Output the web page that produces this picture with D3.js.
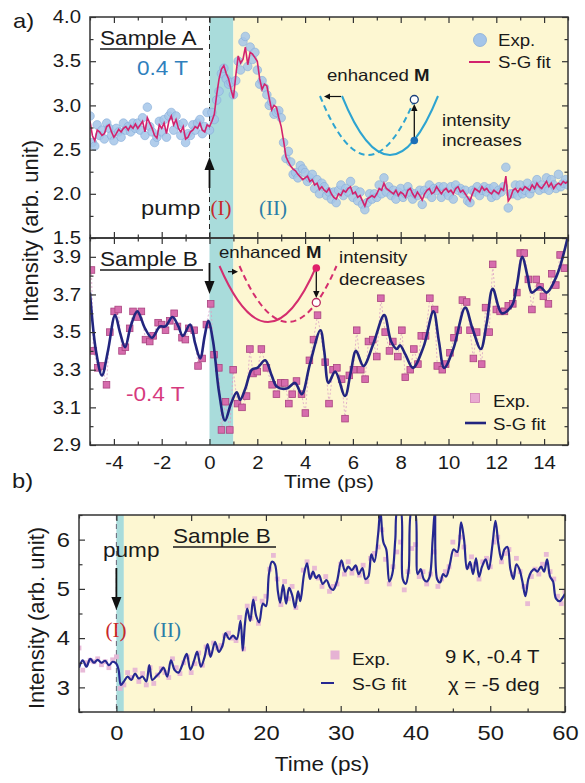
<!DOCTYPE html>
<html>
<head>
<meta charset="utf-8">
<style>
    body { margin: 0; background: #fff; }
    svg { display: block; }
</style>
</head>
<body>
<div class="container"></div>
<script src="https://cdnjs.cloudflare.com/ajax/libs/d3/7.8.5/d3.min.js"></script>
<script>
// ---- panel a, sample A (0.4 T): time grid 0.1 ps
var timeA = d3.range(0, 201).map(function (i) { return -5 + i * 0.1; });
var expA = [
    2.88, 2.58, 2.54, 2.78, 2.66, 2.72, 2.62, 2.80, 2.74, 2.66,
    2.60, 2.74, 2.70, 2.64, 2.80, 2.72, 2.76, 2.70, 2.80, 2.74,
    2.80, 2.72, 2.86, 2.66, 2.98, 2.76, 2.70, 2.58, 2.64, 2.82,
    2.70, 2.84, 2.64, 2.88, 2.92, 2.72, 2.88, 2.78, 2.66, 2.80,
    2.58, 2.68, 2.66, 2.78, 2.72, 2.80, 2.84, 2.68, 2.76, 2.92,
    2.72, 2.92, 2.84, 3.06, 3.16, 3.36, 3.42, 3.30, 3.24, 3.26,
    3.12, 3.28, 3.50, 3.40, 3.72, 3.78, 3.44, 3.66, 3.52, 3.60,
    3.40, 3.24, 3.28, 3.20, 3.12, 3.00, 3.04, 2.90, 2.92, 2.94,
    2.86, 2.58, 2.40, 2.48, 2.36, 2.22, 2.24, 2.18, 2.32, 2.28,
    2.24, 2.14, 2.18, 2.22, 2.06, 2.16, 2.00, 2.12, 2.08, 1.98,
    2.02, 1.94, 2.02, 1.90, 2.04, 2.10, 1.98, 2.06, 2.02, 2.14,
    1.96, 2.04, 1.92, 2.02, 1.88, 1.82, 1.90, 2.00, 1.94, 2.00,
    1.96, 2.10, 2.00, 2.18, 2.02, 2.08, 1.98, 2.04, 1.94, 2.02,
    2.06, 1.96, 2.00, 2.08, 2.02, 1.94, 2.00, 1.98, 2.04, 1.88,
    2.04, 2.00, 2.10, 1.96, 2.06, 2.04, 2.08, 1.96, 2.08, 2.02,
    1.98, 2.08, 1.94, 2.10, 2.04, 2.06, 2.00, 2.04, 1.92, 1.90,
    2.04, 2.02, 2.08, 1.98, 2.04, 2.08, 2.02, 2.06, 1.96, 2.08,
    1.98, 2.04, 2.02, 2.08, 2.30, 1.84, 2.00, 2.00, 2.10, 1.98,
    2.10, 2.00, 2.04, 2.12, 2.00, 2.06, 2.10, 2.16, 2.04, 2.10,
    2.06, 2.18, 2.04, 2.16, 2.10, 2.06, 2.22, 2.08, 2.12, 2.16, 2.10
];
var fitA = [
    2.82, 2.66, 2.60, 2.72, 2.70, 2.66, 2.68, 2.76, 2.78, 2.70,
    2.64, 2.68, 2.73, 2.70, 2.74, 2.76, 2.72, 2.77, 2.74, 2.79,
    2.74, 2.78, 2.82, 2.70, 2.86, 2.80, 2.74, 2.66, 2.63, 2.78,
    2.74, 2.80, 2.68, 2.82, 2.88, 2.78, 2.84, 2.74, 2.70, 2.76,
    2.62, 2.64, 2.70, 2.72, 2.76, 2.74, 2.80, 2.72, 2.70, 2.78,
    2.76, 2.82, 2.90, 3.12, 3.30, 3.41, 3.45, 3.36, 3.30, 3.18,
    3.08, 3.34, 3.56, 3.48, 3.52, 3.66, 3.46, 3.60, 3.58, 3.54,
    3.50, 3.30, 3.18, 3.24, 3.22, 3.08, 2.95, 3.00, 2.98, 2.86,
    2.76, 2.60, 2.42, 2.36, 2.31, 2.28, 2.26, 2.22, 2.19, 2.16,
    2.18, 2.20, 2.14, 2.16, 2.10, 2.12, 2.05, 2.08, 2.04, 2.02,
    2.06, 2.00, 1.96, 1.94, 2.00, 1.98, 2.04, 2.02, 2.06, 2.08,
    2.00, 2.02, 1.96, 1.98, 1.92, 1.86, 1.94, 1.96, 1.98, 1.96,
    2.00, 2.06, 2.04, 2.12, 2.06, 2.04, 2.02, 2.00, 2.04, 1.98,
    2.02, 2.00, 1.96, 2.04, 2.06, 2.00, 1.96, 2.02, 1.98, 1.93,
    2.00, 2.04, 2.06, 2.00, 2.02, 2.08, 2.04, 2.00, 2.04, 2.06,
    2.02, 2.04, 2.00, 2.06, 2.08, 2.02, 2.04, 2.00, 1.96, 1.92,
    2.00, 2.06, 2.04, 2.02, 2.08, 2.04, 2.06, 2.02, 2.00, 2.04,
    2.02, 2.00, 2.06, 2.04, 2.20, 1.92, 1.96, 2.04, 2.06, 2.02,
    2.06, 2.04, 2.08, 2.06, 2.04, 2.10, 2.06, 2.12, 2.08, 2.06,
    2.10, 2.14, 2.08, 2.12, 2.06, 2.10, 2.12, 2.10, 2.14, 2.12, 2.14
];

// ---- panel a, sample B (-0.4 T)
var timeB = [
    -4.94, -4.86, -4.67, -4.49, -4.31, -4.17, -3.99, -3.82, -3.66, -3.52,
    -3.34, -3.20, -3.02, -2.85, -2.68, -2.50, -2.36, -2.15, -2.00, -1.84,
    -1.66, -1.48, -1.34, -1.15, -1.01, -0.87, -0.64, -0.48, -0.31, -0.13,
    0.05, 0.19, 0.39, 0.50, 0.67, 0.85, 0.99, 1.17, 1.36, 1.55,
    1.69, 1.82, 2.00, 2.17, 2.38, 2.62, 2.80, 2.98, 3.15, 3.32,
    3.46, 3.64, 3.85, 4.01, 4.18, 4.35, 4.52, 4.84, 5.00, 5.17,
    5.33, 5.53, 5.67, 5.85, 6.02, 6.16, 6.33, 6.51, 6.65, 6.83,
    7.00, 7.17, 7.35, 7.53, 7.67, 7.88, 8.05, 8.19, 8.40, 8.55,
    8.72, 8.86, 9.04, 9.22, 9.42, 9.53, 9.74, 9.88, 10.06, 10.23,
    10.41, 10.58, 10.76, 10.90, 11.04, 11.18, 11.39, 11.55, 11.70, 11.85,
    12.00, 12.16, 12.34, 12.50, 12.69, 12.86, 13.00, 13.17, 13.34, 13.49,
    13.67, 13.83, 13.97, 14.18, 14.32, 14.49, 14.67, 14.85
];
var expB = [
    3.83, 3.40, 3.31, 3.32, 3.22, 3.50, 3.61, 3.62, 3.40, 3.42,
    3.52, 3.61, 3.58, 3.61, 3.46, 3.45, 3.48, 3.55, 3.54, 3.51,
    3.56, 3.60, 3.53, 3.47, 3.46, 3.52, 3.51, 3.32, 3.36, 3.54,
    3.65, 3.38, 3.31, 2.98, 3.13, 2.98, 3.30, 3.12, 3.10, 3.16,
    3.41, 3.28, 3.29, 3.41, 3.31, 3.22, 3.17, 3.23, 3.23, 3.12,
    3.17, 3.24, 3.17, 3.07, 3.35, 3.46, 3.59, 3.34, 3.12, 3.30,
    3.31, 3.25, 3.04, 3.27, 3.30, 3.51, 3.30, 3.25, 3.45, 3.46,
    3.37, 3.68, 3.50, 3.40, 3.45, 3.37, 3.51, 3.26, 3.30, 3.41,
    3.33, 3.48, 3.48, 3.68, 3.62, 3.32, 3.30, 3.33, 3.39, 3.47,
    3.51, 3.67, 3.66, 3.51, 3.36, 3.50, 3.33, 3.63, 3.50, 3.86,
    3.62, 3.61, 3.61, 3.64, 3.65, 3.71, 3.92, 3.92, 3.78, 3.62,
    3.78, 3.74, 3.69, 3.65, 3.81, 3.75, 3.91, 3.84
];
var fitBt = [
    -5.00, -4.75, -4.50, -4.25, -3.95, -3.75, -3.53, -3.30, -3.02, -2.70,
    -2.41, -2.07, -1.85, -1.55, -1.30, -1.12, -0.81, -0.60, -0.39, -0.20,
    -0.05, 0.15, 0.40, 0.65, 0.90, 1.14, 1.28, 1.50, 1.77, 2.00,
    2.33, 2.60, 2.82, 3.23, 3.58, 3.86, 4.20, 4.64, 4.80, 4.98,
    5.26, 5.67, 5.90, 6.13, 6.44, 6.86, 7.31, 7.60, 7.84, 7.97,
    8.20, 8.51, 8.95, 9.37, 9.60, 9.82, 10.20, 10.70, 11.00, 11.35,
    11.60, 11.85, 12.23, 12.65, 12.85, 13.09, 13.30, 13.49, 13.83, 14.11,
    14.53, 15.00
];
var fitBv = [
    3.71, 3.40, 3.27, 3.40, 3.59, 3.50, 3.42, 3.53, 3.61, 3.52,
    3.47, 3.53, 3.53, 3.58, 3.53, 3.48, 3.54, 3.44, 3.36, 3.48,
    3.56, 3.45, 3.18, 3.03, 3.12, 3.18, 3.14, 3.20, 3.30, 3.31,
    3.35, 3.27, 3.21, 3.20, 3.23, 3.17, 3.33, 3.51, 3.40, 3.23,
    3.29, 3.16, 3.28, 3.40, 3.32, 3.44, 3.59, 3.45, 3.41, 3.43,
    3.38, 3.31, 3.42, 3.61, 3.45, 3.31, 3.41, 3.63, 3.52, 3.41,
    3.55, 3.73, 3.60, 3.64, 3.74, 3.90, 3.80, 3.71, 3.74, 3.71,
    3.80, 4.01
];

// ---- panel b, sample B long scan: time grid 0.5 ps
var timeC = d3.range(0, 131).map(function (i) { return -5 + i * 0.5; });
var expC = [
    3.80, 3.35, 3.50, 3.55, 3.52, 3.58, 3.46, 3.52, 3.40, 3.56,
    3.62, 2.98, 3.05, 3.30, 3.20, 3.35, 3.12, 3.28, 3.05, 3.40,
    3.08, 3.25, 3.38, 3.30, 3.20, 3.58, 3.40, 3.28, 3.50, 3.62,
    3.30, 3.48, 3.70, 3.45, 3.82, 3.70, 3.90, 3.80, 3.85, 4.05,
    4.10, 4.00, 3.95, 4.42, 3.78, 4.65, 4.40, 4.80, 4.30, 4.75,
    4.85, 5.40, 5.68, 5.20, 4.68, 5.15, 4.80, 5.05, 4.62, 4.85,
    5.38, 5.55, 5.28, 5.42, 5.22, 5.05, 5.25, 4.95, 5.05, 5.10,
    5.50, 5.30, 5.55, 5.32, 5.42, 5.28, 5.48, 5.15, 5.62, 5.72,
    5.85, 6.20, 5.60, 5.10, 5.45, 5.75, 5.95, 4.98, 5.35, 5.82,
    5.90, 5.25, 5.35, 5.10, 5.30, 5.75, 5.05, 5.20, 5.35, 5.45,
    5.95, 5.70, 6.05, 5.85, 5.45, 5.65, 5.50, 5.20, 5.55, 5.62,
    5.45, 5.95, 6.05, 5.55, 5.72, 5.80, 5.30, 5.62, 5.35, 5.05,
    4.70, 5.25, 5.40, 5.30, 5.50, 5.70, 5.35, 5.20, 4.85, 4.70,
    4.95
];
var fitCt = [
    -5.0, -4.5, -4.0, -3.5, -3.0, -2.5, -2.0, -1.5, -1.0, -0.5,
    0.0, 0.3, 0.6, 1.0, 1.5, 2.0, 2.5, 3.0, 3.5, 4.0,
    4.4, 4.8, 5.3, 5.8, 6.3, 6.8, 7.3, 7.8, 8.3, 8.8,
    9.4, 9.9, 10.4, 10.8, 11.3, 11.8, 12.2, 12.6, 13.2, 13.7,
    14.2, 14.6, 15.1, 15.6, 16.1, 16.6, 16.9, 17.2, 17.5, 17.9,
    18.3, 18.7, 19.1, 19.6, 20.0, 20.4, 20.8, 21.2, 21.6, 21.9,
    22.3, 22.7, 23.1, 23.5, 23.9, 24.3, 24.6, 25.1, 25.5, 25.9,
    26.3, 26.7, 27.1, 27.6, 28.1, 28.6, 29.0, 29.5, 30.1, 30.6,
    31.0, 31.5, 32.0, 32.4, 32.9, 33.3, 33.7, 34.1, 34.5, 35.0,
    35.3, 35.7, 36.1, 36.5, 36.9, 37.3, 37.6, 38.0, 38.3, 38.7,
    39.1, 39.5, 39.9, 40.3, 40.7, 41.1, 41.5, 41.9, 42.3, 42.6,
    42.9, 43.3, 43.7, 44.1, 44.6, 45.1, 45.6, 46.1, 46.5, 46.9,
    47.3, 47.7, 48.1, 48.5, 48.9, 49.4, 49.8, 50.3, 50.7, 51.1,
    51.5, 51.9, 52.3, 52.7, 53.1, 53.5, 53.9, 54.3, 54.7, 55.1,
    55.5, 55.9, 56.3, 56.8, 57.2, 57.6, 58.0, 58.4, 58.8, 59.3,
    59.8, 60.0
];
var fitCv = [
    3.40, 3.55, 3.42, 3.58, 3.50, 3.56, 3.50, 3.54, 3.45, 3.52,
    3.48, 3.35, 3.05, 3.12, 3.22, 3.15, 3.28, 3.18, 3.22, 3.12,
    3.45, 3.15, 3.22, 3.30, 3.40, 3.22, 3.55, 3.35, 3.30, 3.45,
    3.68, 3.36, 3.55, 3.72, 3.42, 3.62, 3.88, 3.62, 3.92, 3.72,
    3.85, 4.10, 3.98, 4.05, 3.98, 4.35, 3.75, 4.30, 4.60, 4.35,
    4.78, 4.45, 4.32, 4.70, 4.65, 5.30, 5.55, 5.50, 4.95, 4.72,
    5.08, 4.70, 5.02, 4.88, 4.62, 4.95, 4.75, 5.30, 5.52, 5.20,
    5.35, 5.22, 5.28, 5.10, 5.18, 5.02, 4.98, 5.15, 5.58, 5.35,
    5.45, 5.38, 5.48, 5.30, 5.42, 5.20, 5.25, 5.70, 5.55, 6.10,
    6.60, 5.95, 5.80, 5.15, 5.30, 6.00, 6.60, 6.60, 5.20, 5.10,
    5.40, 6.60, 6.60, 5.30, 5.40, 5.20, 5.15, 5.25, 6.00, 6.60,
    5.20, 5.13, 5.30, 5.25, 5.50, 5.80, 5.75, 6.35, 6.00, 5.40,
    5.55, 5.30, 5.62, 5.25, 5.45, 5.60, 5.40, 5.90, 6.38, 5.90,
    5.60, 5.80, 5.85, 5.40, 5.20, 5.50, 5.40, 5.15, 4.85, 5.20,
    5.35, 5.40, 5.35, 5.45, 5.35, 5.60, 5.25, 5.15, 4.80, 4.75,
    4.85, 4.90
];

// ---- ticks
var xMajA = [-4, -2, 0, 2, 4, 6, 8, 10, 12, 14];
var xMinA = [-5, -3, -1, 1, 3, 5, 7, 9, 11, 13, 15];
var yMajTop = [1.5, 2.0, 2.5, 3.0, 3.5, 4.0];
var yMinTop = [1.75, 2.25, 2.75, 3.25, 3.75];
var yMajMid = [2.9, 3.1, 3.3, 3.5, 3.7, 3.9];
var yMinMid = [3.0, 3.2, 3.4, 3.6, 3.8, 4.0];
var xMajB = [0, 10, 20, 30, 40, 50, 60];
var xMinB = [-5, 5, 15, 25, 35, 45, 55];
var yMajB = [3, 4, 5, 6];
var yMinB = [2.5, 3.5, 4.5, 5.5, 6.5];

var FONT = '"Liberation Sans", Arial, sans-serif';
var SERIF = '"Liberation Serif", "Times New Roman", serif';
var SX = 1.13;   // the original figure is a little stretched sideways
var CYAN = '#a9dcdb', YELLOW = '#fdf7d2';

var svg = d3.select('.container')
            .append('svg')
            .attr('width', 585)
            .attr('height', 783)
            .style('font-family', FONT);

var xA = d3.scaleLinear().domain([-5, 15]).range([90, 568]);
var yTop = d3.scaleLinear().domain([1.5, 4.0]).range([238, 17]);
var yMid = d3.scaleLinear().domain([2.9, 4.0]).range([445, 238]);
var xB = d3.scaleLinear().domain([-5, 60]).range([79, 565]);
var yB = d3.scaleLinear().domain([2.5, 6.5]).range([712, 515]);

function txt(x, y, s, size, opt) {
    opt = opt || {};
    var t = svg.append('text')
               .attr('transform', 'translate(' + x + ',' + y + ') scale(' + (opt.sx || SX) + ',1)')
               .attr('font-size', size)
               .attr('fill', opt.fill || '#1a1a1a')
               .attr('text-anchor', opt.anchor || 'start')
               .attr('font-family', opt.family || FONT);
    if (s !== null) t.text(s);
    return t;
}

function underline(x0, x1, y) {
    svg.append('line').attr('x1', x0).attr('x2', x1).attr('y1', y).attr('y2', y)
       .attr('stroke', '#1a1a1a').attr('stroke-width', 1.5);
}

function shade(x, y, t0, t1, color) {
    svg.append('rect')
       .attr('x', x(t0)).attr('y', y.range()[1])
       .attr('width', x(t1) - x(t0))
       .attr('height', y.range()[0] - y.range()[1])
       .attr('fill', color);
}

function clipFor(id, x, y) {
    svg.append('clipPath').attr('id', id).append('rect')
       .attr('x', x.range()[0]).attr('y', y.range()[1])
       .attr('width', x.range()[1] - x.range()[0])
       .attr('height', y.range()[0] - y.range()[1]);
    return 'url(#' + id + ')';
}

function tickSet(axis, scale, tr, vals, size, fmt, fs, pad) {
    var a = axis(scale).tickValues(vals).tickSize(size).tickPadding(pad || 3)
                       .tickFormat(fmt || function () { return ''; });
    var g = svg.append('g').attr('transform', tr).call(a);
    g.select('.domain').remove();
    g.selectAll('.tick line').attr('stroke', '#333').attr('stroke-width', 1.2);
    if (fmt) {
        g.attr('font-size', fs).attr('font-family', FONT);
        g.selectAll('text').attr('fill', '#1a1a1a').attr('transform', 'scale(' + SX + ',1)');
    }
    return g;
}

function frame(x, y, xMaj, xMin, yMaj, yMin, xFmt, yFmt, fs, xPad, yPad) {
    var x0 = x.range()[0], x1 = x.range()[1], yb = y.range()[0], yt = y.range()[1];
    tickSet(d3.axisBottom, x, 'translate(0,' + yb + ')', xMaj, -6, xFmt, fs, xPad);
    tickSet(d3.axisBottom, x, 'translate(0,' + yb + ')', xMin, -3.5);
    tickSet(d3.axisTop, x, 'translate(0,' + yt + ')', xMaj, -6);
    tickSet(d3.axisTop, x, 'translate(0,' + yt + ')', xMin, -3.5);
    tickSet(d3.axisLeft, y, 'translate(' + x0 + ',0)', yMaj, -6, yFmt, fs, yPad);
    tickSet(d3.axisLeft, y, 'translate(' + x0 + ',0)', yMin, -3.5);
    tickSet(d3.axisRight, y, 'translate(' + x1 + ',0)', yMaj, -6);
    tickSet(d3.axisRight, y, 'translate(' + x1 + ',0)', yMin, -3.5);
    svg.append('rect').attr('x', x0).attr('y', yt).attr('width', x1 - x0).attr('height', yb - yt)
       .attr('fill', 'none').attr('stroke', '#333').attr('stroke-width', 1.5);
}

function arrow(x0, y0, x1, y1, hl, hw, sw, color) {
    var a = Math.atan2(y1 - y0, x1 - x0), c = Math.cos(a), s = Math.sin(a);
    var bx = x1 - hl * c, by = y1 - hl * s;
    svg.append('line').attr('x1', x0).attr('y1', y0).attr('x2', bx).attr('y2', by)
       .attr('stroke', color || '#111').attr('stroke-width', sw);
    svg.append('path')
       .attr('d', 'M' + x1 + ',' + y1 + 'L' + (bx + hw * s) + ',' + (by - hw * c) +
                  'L' + (bx - hw * s) + ',' + (by + hw * c) + 'Z')
       .attr('fill', color || '#111');
}

function parabola(x0, x1, yEnd, yMin, color, dash) {
    var p = d3.path();
    p.moveTo(x0, yEnd);
    p.quadraticCurveTo((x0 + x1) / 2, 2 * yMin - yEnd, x1, yEnd);
    svg.append('path').attr('d', p.toString()).attr('fill', 'none')
       .attr('stroke', color).attr('stroke-width', 2)
       .attr('stroke-dasharray', dash ? '6,4' : null);
}

var fmt1 = d3.format('.1f');
var fmtInt = function (d) { return String(d); };

// ================= panel a, upper (sample A)
shade(xA, yTop, 0, 1, CYAN);
shade(xA, yTop, 1, 15, YELLOW);
shade(xA, yMid, 0, 1, CYAN);
shade(xA, yMid, 1, 15, YELLOW);

svg.append('line').attr('x1', xA(0)).attr('x2', xA(0)).attr('y1', 17).attr('y2', 238)
   .attr('stroke', '#222').attr('stroke-width', 1).attr('stroke-dasharray', '5,4');

var gA = svg.append('g').attr('clip-path', clipFor('clipTop', xA, yTop));
gA.selectAll('circle').data(timeA).join('circle')
  .attr('cx', function (d) { return xA(d); })
  .attr('cy', function (d, i) { return yTop(expA[i]); })
  .attr('r', 4.3)
  .attr('fill', '#a4c5e9').attr('fill-opacity', 0.85)
  .attr('stroke', '#86acd8').attr('stroke-width', 0.6);
gA.append('path').datum(fitA)
  .attr('d', d3.line().x(function (d, i) { return xA(timeA[i]); }).y(function (d) { return yTop(d); }))
  .attr('fill', 'none').attr('stroke', '#d2226e').attr('stroke-width', 1.6);

frame(xA, yTop, xMajA, xMinA, yMajTop, yMinTop, null, fmt1, 18, 3, 8);

txt(100, 45, 'Sample A', 20);
underline(100, 203, 49);
txt(137, 75, '0.4 T', 20, { fill: '#2f80bd' });
arrow(xA(0), 188, xA(0), 157, 13, 5, 1.8);
txt(141, 215, 'pump', 21);
txt(221, 215, '(I)', 21, { family: SERIF, fill: '#c7282b', anchor: 'middle', sx: 1 });
txt(273, 215, '(II)', 21, { family: SERIF, fill: '#2b7ea8', anchor: 'middle', sx: 1 });

// legend
svg.append('circle').attr('cx', 480).attr('cy', 40).attr('r', 6.5)
   .attr('fill', '#a4c5e9').attr('stroke', '#86acd8').attr('stroke-width', 0.8);
txt(498, 46, 'Exp.', 16.5);
svg.append('line').attr('x1', 469).attr('x2', 490).attr('y1', 62).attr('y2', 62)
   .attr('stroke', '#d2226e').attr('stroke-width', 2);
txt(498, 68, 'S-G fit', 16.5);

// inset, increasing intensity
var tA = txt(327, 81, null, 16.5);
tA.append('tspan').text('enhanced ');
tA.append('tspan').attr('font-weight', 'bold').text('M');
parabola(342, 438, 96, 155, '#2ea4d1', false);
parabola(320, 416, 96, 155, '#2ea4d1', true);
arrow(341, 96.5, 324, 96.5, 6, 3, 1.2);
arrow(414.3, 139, 414.3, 104, 7, 3.2, 1.3);
svg.append('circle').attr('cx', 414.3).attr('cy', 140.5).attr('r', 3.8).attr('fill', '#1c6fb7');
svg.append('circle').attr('cx', 414.3).attr('cy', 99.5).attr('r', 4).attr('fill', '#fff')
   .attr('stroke', '#1a3f7a').attr('stroke-width', 1.3);
txt(442, 126, 'intensity', 16.5);
txt(442, 146, 'increases', 16.5);

// ================= panel a, lower (sample B)
var gB = svg.append('g').attr('clip-path', clipFor('clipMid', xA, yMid));
gB.append('path').datum(expB)
  .attr('d', d3.line().x(function (d, i) { return xA(timeB[i]); }).y(function (d) { return yMid(d); }))
  .attr('fill', 'none').attr('stroke', '#dba0c4').attr('stroke-width', 0.8).attr('stroke-dasharray', '2,2');
gB.selectAll('rect').data(timeB).join('rect')
  .attr('x', function (d) { return xA(d) - 3.3; })
  .attr('y', function (d, i) { return yMid(expB[i]) - 3.3; })
  .attr('width', 6.6).attr('height', 6.6)
  .attr('fill', '#d66cad').attr('stroke', '#a9437f').attr('stroke-width', 0.8);
gB.append('path').datum(fitBv)
  .attr('d', d3.line().curve(d3.curveCatmullRom.alpha(0.5))
               .x(function (d, i) { return xA(fitBt[i]); }).y(function (d) { return yMid(d); }))
  .attr('fill', 'none').attr('stroke', '#22257f').attr('stroke-width', 2.6);

frame(xA, yMid, xMajA, xMinA, yMajMid, yMinMid, fmtInt, fmt1, 18, 11, 8);

txt(100, 266, 'Sample B', 20);
underline(100, 203, 270);
arrow(xA(0), 263, xA(0), 294, 13, 5, 1.8);
txt(126, 401, '-0.4 T', 20, { fill: '#d63a7e' });

var tB = txt(219, 258, null, 16.5);
tB.append('tspan').text('enhanced ');
tB.append('tspan').attr('font-weight', 'bold').text('M');
parabola(219.5, 316.5, 266, 322, '#d42e6e', false);
parabola(239.5, 336.5, 266, 322, '#d42e6e', true);
arrow(228, 271.7, 238, 271.7, 6, 3, 1.2);
arrow(316.3, 270, 316.3, 298, 7, 3.2, 1.3);
svg.append('circle').attr('cx', 316.3).attr('cy', 268).attr('r', 3.8).attr('fill', '#e0206a');
svg.append('circle').attr('cx', 316.3).attr('cy', 302.5).attr('r', 4).attr('fill', '#fff')
   .attr('stroke', '#b8285f').attr('stroke-width', 1.3);
txt(339, 263, 'intensity', 16.5);
txt(339, 285, 'decreases', 16.5);

svg.append('rect').attr('x', 470.5).attr('y', 393.5).attr('width', 9).attr('height', 9)
   .attr('fill', '#e9a9d1').attr('stroke', '#d07fb3').attr('stroke-width', 0.8);
txt(493, 407, 'Exp.', 16.5);
svg.append('line').attr('x1', 465).attr('x2', 486).attr('y1', 423).attr('y2', 423)
   .attr('stroke', '#22257f').attr('stroke-width', 2.6);
txt(493, 430, 'S-G fit', 16.5);

txt(329, 488, 'Time (ps)', 19, { anchor: 'middle' });
svg.append('text')
   .attr('transform', 'translate(38,231) rotate(-90)')
   .attr('text-anchor', 'middle').attr('font-size', 22).attr('fill', '#1a1a1a')
   .text('Intensity (arb. unit)');
txt(13, 28, 'a)', 21);

// ================= panel b
shade(xB, yB, 0, 1, CYAN);
shade(xB, yB, 1, 60, YELLOW);
svg.append('line').attr('x1', xB(0)).attr('x2', xB(0)).attr('y1', 515).attr('y2', 712)
   .attr('stroke', '#667').attr('stroke-width', 1).attr('stroke-dasharray', '5,4');

var gC = svg.append('g').attr('clip-path', clipFor('clipBot', xB, yB));
gC.selectAll('rect').data(timeC).join('rect')
  .attr('x', function (d) { return xB(d) - 2.4; })
  .attr('y', function (d, i) { return yB(expC[i]) - 2.4; })
  .attr('width', 4.8).attr('height', 4.8)
  .attr('fill', '#e6b3d4').attr('fill-opacity', 0.9);
gC.append('path').datum(fitCv)
  .attr('d', d3.line().curve(d3.curveCatmullRom.alpha(0.5))
               .x(function (d, i) { return xB(fitCt[i]); }).y(function (d) { return yB(d); }))
  .attr('fill', 'none').attr('stroke', '#262891').attr('stroke-width', 2.2);

frame(xB, yB, xMajB, xMinB, yMajB, yMinB, fmtInt, fmtInt, 21, 13, 8);

txt(173, 543, 'Sample B', 20);
underline(173, 276, 547);
txt(103, 557, 'pump', 20);
arrow(xB(0), 568, xB(0), 610, 13, 5, 1.8);
txt(116, 637, '(I)', 21, { family: SERIF, fill: '#c7282b', anchor: 'middle', sx: 1 });
txt(167, 637, '(II)', 21, { family: SERIF, fill: '#2b7ea8', anchor: 'middle', sx: 1 });

svg.append('rect').attr('x', 330.5).attr('y', 650.5).attr('width', 9).attr('height', 9)
   .attr('fill', '#e6b3d4');
txt(352, 665, 'Exp.', 17);
svg.append('line').attr('x1', 321).attr('x2', 334).attr('y1', 683).attr('y2', 683)
   .attr('stroke', '#262891').attr('stroke-width', 2);
txt(352, 690, 'S-G fit', 17);
txt(445, 663, '9 K, -0.4 T', 18);
txt(448, 691, 'χ = -5 deg', 18);

txt(322, 771, 'Time (ps)', 20, { anchor: 'middle' });
svg.append('text')
   .attr('transform', 'translate(44,618) rotate(-90)')
   .attr('text-anchor', 'middle').attr('font-size', 22).attr('fill', '#1a1a1a')
   .text('Intensity (arb. unit)');
txt(12, 488, 'b)', 21);
</script>
</body>
</html>
